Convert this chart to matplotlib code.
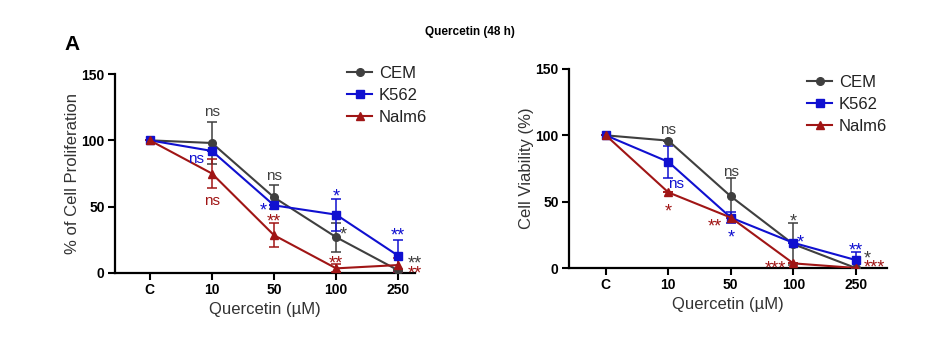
import matplotlib
matplotlib.use("Agg")
from matplotlib import pyplot as plt
from matplotlib.lines import Line2D
import numpy as np

plt.rcParams['font.family'] = ['Liberation Sans', 'DejaVu Sans']

doses = ["C", "10", "50", "100", "250"]
series = ["CEM", "K562", "Nalm6"]
colors = {"CEM": "#3f3f3f", "K562": "#1010d0", "Nalm6": "#a01515"}
markers = {"CEM": "o", "K562": "s", "Nalm6": "^"}

# panel 1 - % of cell proliferation
prolif = {
    "CEM":   [100, 98, 57, 27, 2],
    "K562":  [100, 92, 51, 44, 13],
    "Nalm6": [100, 75, 28.5, 3.5, 6],
}
prolif_err = {
    "CEM":   [0, 16, 9, 11, 0],
    "K562":  [0, 0, 0, 12, 12],
    "Nalm6": [0, 11, 9, 3, 5],
}
# (series, dose index, dx, y, text)
prolif_marks = [
    ("CEM", 1, 0, 121, "ns"), ("K562", 1, -0.26, 86, "ns"), ("Nalm6", 1, 0, 54, "ns"),
    ("CEM", 2, 0, 73, "ns"), ("K562", 2, -0.17, 50, "*"), ("Nalm6", 2, 0, 42, "**"),
    ("K562", 3, 0, 61, "*"), ("CEM", 3, 0.12, 32, "*"), ("Nalm6", 3, 0, 10, "**"),
    ("K562", 4, 0, 31, "**"), ("CEM", 4, 0.26, 10, "**"), ("Nalm6", 4, 0.26, 3, "**"),
]

# panel 2 - cell viability
viab = {
    "CEM":   [100, 96, 54, 18, 0],
    "K562":  [100, 80, 38, 19, 6],
    "Nalm6": [100, 57, 38, 3.5, 0],
}
viab_err = {
    "CEM":   [0, 0, 14, 16, 0],
    "K562":  [0, 12, 4, 0, 6],
    "Nalm6": [0, 0, 0, 0, 0],
}
viab_marks = [
    ("CEM", 1, 0, 104, "ns"), ("K562", 1, 0.12, 63, "ns"), ("Nalm6", 1, 0, 46, "*"),
    ("CEM", 2, 0, 72, "ns"), ("Nalm6", 2, -0.26, 34, "**"), ("K562", 2, 0, 26, "*"),
    ("CEM", 3, 0, 38, "*"), ("K562", 3, 0.11, 22, "*"), ("Nalm6", 3, -0.28, 3, "***"),
    ("K562", 4, 0, 16, "**"), ("CEM", 4, 0.18, 10.5, "*"), ("Nalm6", 4, 0.29, 3.8, "***"),
]

fig = plt.figure(figsize=(9.41, 3.45), dpi=100)
lab_col = "#333333"
star_fs = 13


def panel(rect, xlim, data, err, marks, ylabel, leg_xy):
    ax = fig.add_axes(rect)
    x = np.arange(len(doses))
    for s in series:
        ax.errorbar(x, data[s], yerr=err[s], color=colors[s], marker=markers[s],
                    markersize=5.5, linewidth=1.5, elinewidth=1.1, capsize=3.5,
                    capthick=1.1, zorder=3)
    for s, i, dx, y, t in marks:
        if t.startswith("*"):
            # asterisk glyph sits high above the baseline, shift it down
            ax.annotate(t, (x[i] + dx, y), xytext=(0, -0.5 * star_fs),
                        textcoords="offset points", color=colors[s], ha="center",
                        va="baseline", fontsize=star_fs, zorder=4)
        else:
            ax.text(x[i] + dx, y, t, color=colors[s], ha="center", va="center",
                    fontsize=11, zorder=4)
    ax.set_xlim(*xlim)
    ax.set_ylim(0, 150)
    ax.set_yticks([0, 50, 100, 150])
    ax.set_xticks(x)
    ax.set_xticklabels(doses)
    for lab in ax.get_xticklabels() + ax.get_yticklabels():
        lab.set_fontweight("bold")
        lab.set_fontsize(10)
    ax.tick_params(width=1.5, length=5, direction="out", pad=2.5)
    for sp in ["top", "right"]:
        ax.spines[sp].set_visible(False)
    for sp in ["left", "bottom"]:
        ax.spines[sp].set_linewidth(1.6)
    ax.set_xlabel("Quercetin (µM)", fontsize=12, color=lab_col, labelpad=3)
    ax.set_ylabel(ylabel, fontsize=12, color=lab_col, labelpad=1)
    handles = [Line2D([], [], color=colors[s], marker=markers[s], markersize=5.5,
                      linewidth=1.5) for s in series]
    leg = ax.legend(handles, series, loc="upper left", bbox_to_anchor=leg_xy,
                    bbox_transform=fig.transFigure, frameon=False, fontsize=12,
                    handlelength=1.5, labelspacing=0.42, handletextpad=0.4,
                    borderpad=0, borderaxespad=0)
    for t in leg.get_texts():
        t.set_color("#222222")
    return ax


panel([115 / 941, 1 - 273 / 345, 300 / 941, 199 / 345], (-0.56, 4.27),
      prolif, prolif_err, prolif_marks, "% of Cell Proliferation", (347 / 941, 1 - 66 / 345))
panel([569 / 941, 1 - 268 / 345, 318 / 941, 199 / 345], (-0.59, 4.5),
      viab, viab_err, viab_marks, "Cell Viability (%)", (807 / 941, 1 - 75 / 345))

fig.text(470 / 941, 1 - 32 / 345, "Quercetin (48 h)", ha="center", va="center",
         fontsize=8.5, fontweight="bold")
fig.text(72 / 941, 1 - 45 / 345, "A", ha="center", va="center",
         fontsize=15, fontweight="bold")

fig.savefig("out.png", dpi=100)
